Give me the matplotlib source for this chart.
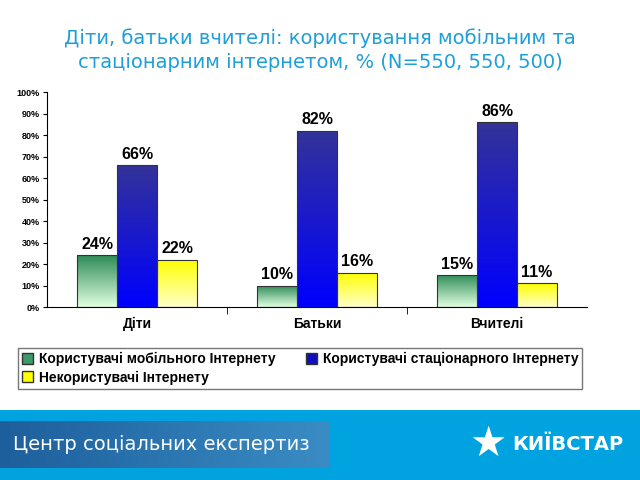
import numpy as np
import matplotlib.pyplot as plt
from matplotlib.colors import LinearSegmentedColormap
from matplotlib.patches import Rectangle

plt.rcParams['font.family'] = ['Liberation Sans', 'DejaVu Sans']

# data
categories = ["Діти", "Батьки", "Вчителі"]
mobile = [24, 10, 15]
fixed = [66, 82, 86]
nonusers = [22, 16, 11]
series_names = ["Користувачі мобільного Інтернету",
                "Користувачі стаціонарного Інтернету",
                "Некористувачі Інтернету"]
yticks = [0, 10, 20, 30, 40, 50, 60, 70, 80, 90, 100]

# gradient colours (top, bottom)
grads = [("#2e8b57", "#e0ffe0"), ("#333399", "#0000ff"), ("#ffff00", "#ffffc8")]
legend_colors = ["#3a9a6a", "#1010c0", "#ffff00"]

fig = plt.figure(figsize=(6.4, 4.8), dpi=100)
fig.patch.set_facecolor("white")

fig.text(0.5, 0.896, "Діти, батьки вчителі: користування мобільним та\n"
         "стаціонарним інтернетом, % (N=550, 550, 500)",
         ha="center", va="center", fontsize=14, color="#1e9fd8",
         linespacing=1.3, family=['DejaVu Sans'])

ax = fig.add_axes([0.0734, 0.3604, 0.8438, 0.4479])
x = np.arange(len(categories))
w = 0.222
all_series = [mobile, fixed, nonusers]
for i, vals in enumerate(all_series):
    bars = ax.bar(x + (i - 1) * w, vals, w, color="none", edgecolor="#333333",
                  linewidth=0.8, zorder=3)
    cmap = LinearSegmentedColormap.from_list("g%d" % i, [grads[i][1], grads[i][0]])
    for b, v in zip(bars, vals):
        x0, y0 = b.get_x(), b.get_y()
        im = ax.imshow(np.linspace(0, 1, 100).reshape(-1, 1), cmap=cmap,
                       origin="lower", aspect="auto",
                       extent=[x0, x0 + b.get_width(), y0, y0 + b.get_height()],
                       zorder=2)
        im.set_clip_path(b)
        ax.text(b.get_x() + b.get_width() / 2, v + 1.5, "%d%%" % v,
                ha="center", va="bottom", fontsize=11.5, fontweight="bold")

ax.set_xlim(-0.5, len(categories) - 0.5)
ax.set_ylim(0, 100)
ax.set_yticks(yticks)
ax.set_yticklabels(["%d%%" % t for t in yticks], fontsize=6.5, fontweight="bold")
ax.set_xticks(x)
ax.set_xticklabels(categories, fontsize=10, fontweight="bold")
ax.tick_params(axis="x", length=0, pad=7)
ax.set_xticks(np.arange(len(categories) - 1) + 0.5, minor=True)
ax.tick_params(axis="x", which="minor", length=5, direction="out")
ax.tick_params(axis="y", length=3, direction="out", pad=2)
for s in ["top", "right"]:
    ax.spines[s].set_visible(False)

# legend (column-major fill: mobile, nonusers | fixed)
order = [0, 2, 1]
handles = [Rectangle((0, 0), 1, 1, facecolor=legend_colors[k], edgecolor="#333333") for k in order]
labels = [series_names[k] for k in order]
leg = fig.legend(handles, labels, loc="upper left",
                 bbox_to_anchor=(0.028, 0.183, 0.898, 0.092),
                 ncol=2, prop={"weight": "bold", "size": 10},
                 frameon=True, fancybox=False, handlelength=0.8, handleheight=0.8,
                 handletextpad=0.4, borderpad=0.3, labelspacing=0.3,
                 columnspacing=2.2, borderaxespad=0)
leg.get_frame().set_edgecolor("#555555")
leg.get_frame().set_linewidth(1.0)

# bottom banner
fig.patches.append(Rectangle((0, 0), 1, 0.146, transform=fig.transFigure,
                             facecolor="#00a3e0", edgecolor="none", zorder=-5))
bax = fig.add_axes([0, 0.025, 0.513, 0.098])
bax.set_zorder(5)
bax.imshow(np.linspace(0, 1, 100).reshape(1, -1),
           cmap=LinearSegmentedColormap.from_list("b", ["#1d5f9c", "#3a8cc4"]),
           aspect="auto", extent=[0, 1, 0, 1])
bax.axis("off")
bax.text(0.04, 0.5, "Центр соціальних експертиз", color="white", fontsize=14,
         va="center", ha="left", family=["DejaVu Sans"])
fig.text(0.762, 0.075, "★", color="white", fontsize=30, ha="center", va="center",
         family=["DejaVu Sans"])
fig.text(0.8, 0.075, "КИЇВСТАР", color="white", fontsize=14, fontweight="bold",
         ha="left", va="center", family=["DejaVu Sans"])

fig.savefig("out.png", dpi=100)
